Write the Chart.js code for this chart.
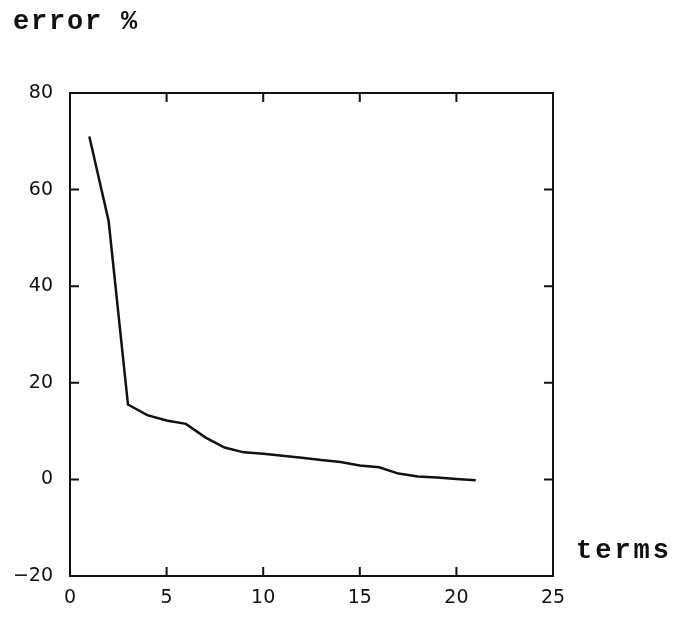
<!DOCTYPE html>
<html>
<head>
<meta charset="utf-8">
<script src="https://cdn.jsdelivr.net/npm/chart.js@4/dist/chart.umd.min.js"></script>
<style>
  html, body { margin: 0; padding: 0; background: #fff; }
  #wrap { width: 684px; height: 619px; position: relative; }
</style>
</head>
<body>
<div id="wrap"><canvas id="errors"></canvas></div>
<script>
/* globals Chart:false */

// number of terms and the error %
const terms = [1, 2, 3, 4, 5, 6, 7, 8, 9, 10, 11, 12, 13, 14, 15, 16, 17, 18, 19, 20, 21]
const errorPct = [71, 53.5, 15.5, 13.3, 12.2, 11.5, 8.7, 6.6, 5.6, 5.3, 4.9, 4.5, 4.0, 3.6, 2.9, 2.5, 1.2, 0.6, 0.4, 0.1, -0.2]

const xTicks = [0, 5, 10, 15, 20, 25]
const yTicks = [-20, 0, 20, 40, 60, 80]

;(() => {
  'use strict'

  const ink = '#111'

  // box round the plot with short ticks pointing inwards, plus the two captions
  const framePlugin = {
    id: 'frame',
    afterDraw (chart) {
      const { ctx, chartArea: a, scales } = chart
      ctx.save()
      ctx.strokeStyle = ink
      ctx.lineWidth = 2
      ctx.strokeRect(a.left, a.top, a.right - a.left, a.bottom - a.top)
      const len = 9
      ctx.beginPath()
      xTicks.slice(1, -1).forEach(v => {
        const px = scales.x.getPixelForValue(v)
        ctx.moveTo(px, a.bottom); ctx.lineTo(px, a.bottom - len)
        ctx.moveTo(px, a.top); ctx.lineTo(px, a.top + len)
      })
      yTicks.slice(1, -1).forEach(v => {
        const py = scales.y.getPixelForValue(v)
        ctx.moveTo(a.left, py); ctx.lineTo(a.left + len, py)
        ctx.moveTo(a.right, py); ctx.lineTo(a.right - len, py)
      })
      ctx.stroke()

      ctx.fillStyle = ink
      ctx.font = 'bold 27px "Liberation Mono"'
      ctx.textBaseline = 'alphabetic'
      ctx.textAlign = 'left'
      ctx.letterSpacing = '1.8px'
      ctx.fillText('error %', 13, 29)
      ctx.letterSpacing = '3px'
      ctx.fillText('terms', 576, 558)
      ctx.restore()
    }
  }

  const tickFont = { family: 'DejaVu Sans', size: 19 }
  const minus = v => (v < 0 ? '\u2212' + Math.abs(v) : String(v))

  const ctxEl = document.getElementById('errors')
  // eslint-disable-next-line no-unused-vars
  const errorsChart = new Chart(ctxEl, {
    type: 'line',
    data: {
      datasets: [{
        data: terms.map((t, i) => ({ x: t, y: errorPct[i] })),
        borderColor: ink,
        borderWidth: 2.5,
        backgroundColor: 'transparent',
        pointRadius: 0,
        tension: 0
      }]
    },
    options: {
      responsive: true,
      maintainAspectRatio: false,
      animation: false,
      layout: {
        padding: { top: 93, right: 131, left: 0, bottom: 0 }
      },
      plugins: {
        legend: { display: false },
        tooltip: { enabled: false }
      },
      scales: {
        x: {
          type: 'linear',
          min: 0,
          max: 25,
          afterFit: s => { s.height = 43 },
          afterBuildTicks: s => { s.ticks = xTicks.map(v => ({ value: v })) },
          grid: { display: false, drawTicks: false },
          border: { display: false },
          ticks: {
            padding: 11,
            color: ink,
            font: tickFont,
            callback: minus
          }
        },
        y: {
          type: 'linear',
          min: -20,
          max: 80,
          afterFit: s => { s.width = 70 },
          afterBuildTicks: s => { s.ticks = yTicks.map(v => ({ value: v })) },
          grid: { display: false, drawTicks: false },
          border: { display: false },
          ticks: {
            padding: 17,
            color: ink,
            font: tickFont,
            callback: minus
          }
        }
      }
    },
    plugins: [framePlugin]
  })
})()
</script>
</body>
</html>
